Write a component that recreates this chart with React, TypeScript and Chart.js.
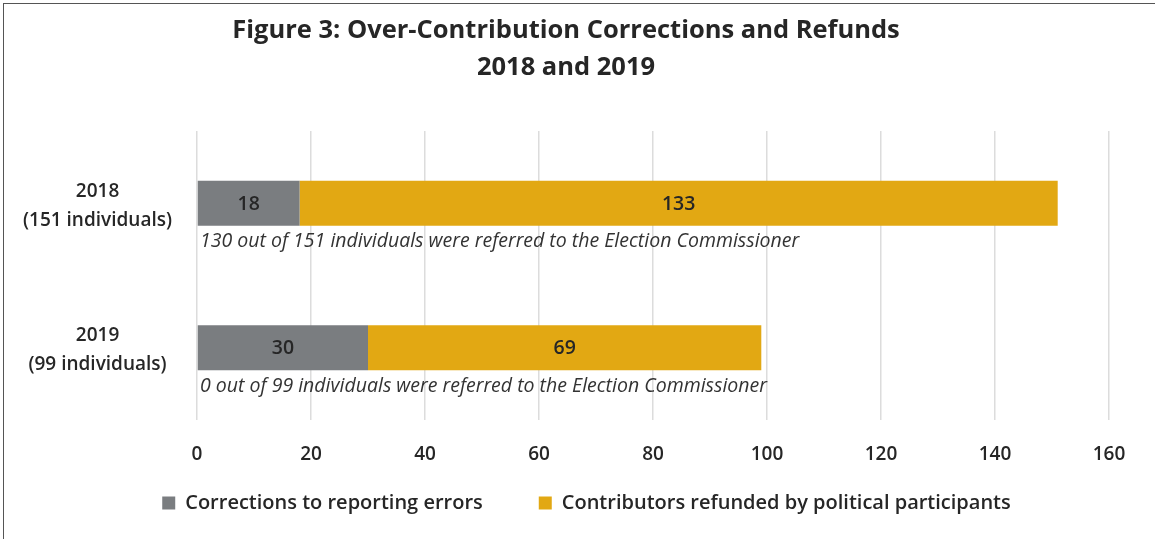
import React, { useEffect, useRef } from "react";
import { Chart, registerables } from "chart.js";

Chart.register(...registerables);

const titleLines = ["Figure 3: Over-Contribution Corrections and Refunds", "2018 and 2019"];
const categories = [["2018", "(151 individuals)"], ["2019", "(99 individuals)"]];
const seriesNames = ["Corrections to reporting errors", "Contributors refunded by political participants"];
const corrections = [18, 30];
const refunded = [133, 69];
const notes = [
  "130 out of 151 individuals were referred to the Election Commissioner",
  "0 out of 99 individuals were referred to the Election Commissioner",
];
const xMin = 0;
const xMax = 160;
const xStep = 20;

const FONT = '"Open Sans", "Noto Sans", sans-serif';
const TEXT = "#262626";
const GRAY = "#7a7d80";
const GOLD = "#e2a813";
const LEGEND_PAD = 56;
const LEGEND_FONT = 20;

const overlayPlugin = {
  id: "overlayText",
  afterLayout(chart: any) {
    const lg = chart.legend;
    if (lg) {
      const top = 503 - LEGEND_PAD - LEGEND_FONT / 2;
      lg.top = top;
      lg.height = LEGEND_PAD * 2 + LEGEND_FONT;
      lg.bottom = top + lg.height;
      lg.left += 32;
      lg.right += 32;
    }
  },
  afterDatasetsDraw(chart: any) {
    const ctx = chart.ctx;
    ctx.save();
    ctx.fillStyle = TEXT;
    ctx.textAlign = "center";
    ctx.textBaseline = "middle";
    ctx.font = `600 19.5px ${FONT}`;
    chart.data.datasets.forEach((ds: any, di: number) => {
      const meta = chart.getDatasetMeta(di);
      meta.data.forEach((bar: any, i: number) => {
        const p = bar.getProps(["x", "y", "base"], true);
        ctx.fillText(String(ds.data[i]), (p.x + p.base) / 2, p.y + 1);
      });
    });
    ctx.font = `italic 19.5px ${FONT}`;
    ctx.textAlign = "left";
    ctx.fillStyle = "#333333";
    const meta0 = chart.getDatasetMeta(0);
    meta0.data.forEach((bar: any, i: number) => {
      const p = bar.getProps(["y", "height"], true);
      ctx.fillText(notes[i], chart.chartArea.left + 3, p.y + p.height / 2 + 16);
    });
    ctx.font = `bold 25.5px ${FONT}`;
    ctx.textAlign = "center";
    ctx.textBaseline = "alphabetic";
    ctx.fillStyle = TEXT;
    titleLines.forEach((t, i) => ctx.fillText(t, 566, 38 + i * 37));
    ctx.restore();
  },
};

export default function App() {
  const ref = useRef<HTMLCanvasElement | null>(null);
  useEffect(() => {
    if (!ref.current) return;
    const chart = new Chart(ref.current, {
      type: "bar",
      data: {
        labels: categories,
        datasets: [
          { label: seriesNames[0], data: corrections, backgroundColor: GRAY, categoryPercentage: 1, barPercentage: 0.31 },
          { label: seriesNames[1], data: refunded, backgroundColor: GOLD, categoryPercentage: 1, barPercentage: 0.31 },
        ],
      },
      options: {
        indexAxis: "y",
        responsive: false,
        animation: false,
        layout: { padding: { top: 131, right: 46, left: 0, bottom: 14 } },
        scales: {
          x: {
            stacked: true,
            min: xMin,
            max: xMax,
            ticks: { stepSize: xStep, color: TEXT, padding: 23, font: { family: FONT, size: 19, weight: "600" } },
            grid: { color: "#dcdcdc", lineWidth: 1.5, drawTicks: false },
            border: { display: false },
            afterFit: (s: any) => { s.height = 45; },
          },
          y: {
            stacked: true,
            grid: { display: false },
            border: { display: false },
            ticks: { color: TEXT, crossAlign: "center", padding: 17, labelOffset: 2.5, font: { family: FONT, size: 19, weight: "600", lineHeight: 1.52 } },
            afterFit: (s: any) => { s.width = 197; },
          },
        },
        plugins: {
          legend: {
            position: "bottom",
            maxHeight: 60,
            labels: { boxWidth: 13, boxHeight: 13, padding: LEGEND_PAD, color: TEXT, font: { family: FONT, size: LEGEND_FONT, weight: "600" } },
          },
          tooltip: { enabled: false },
        },
      },
      plugins: [overlayPlugin],
    });
    return () => chart.destroy();
  }, []);
  return (
    <div style={{ position: "fixed", left: 0, top: 0, width: 1155, height: 539, background: "#fff", overflow: "hidden" }}>
      <canvas ref={ref} width={1155} height={539} style={{ display: "block", width: 1155, height: 539 }} />
      <div style={{ position: "absolute", left: 3, top: 3, width: 1200, height: 600, borderTop: "1px solid #555", borderLeft: "1px solid #555", pointerEvents: "none" }} />
    </div>
  );
}
